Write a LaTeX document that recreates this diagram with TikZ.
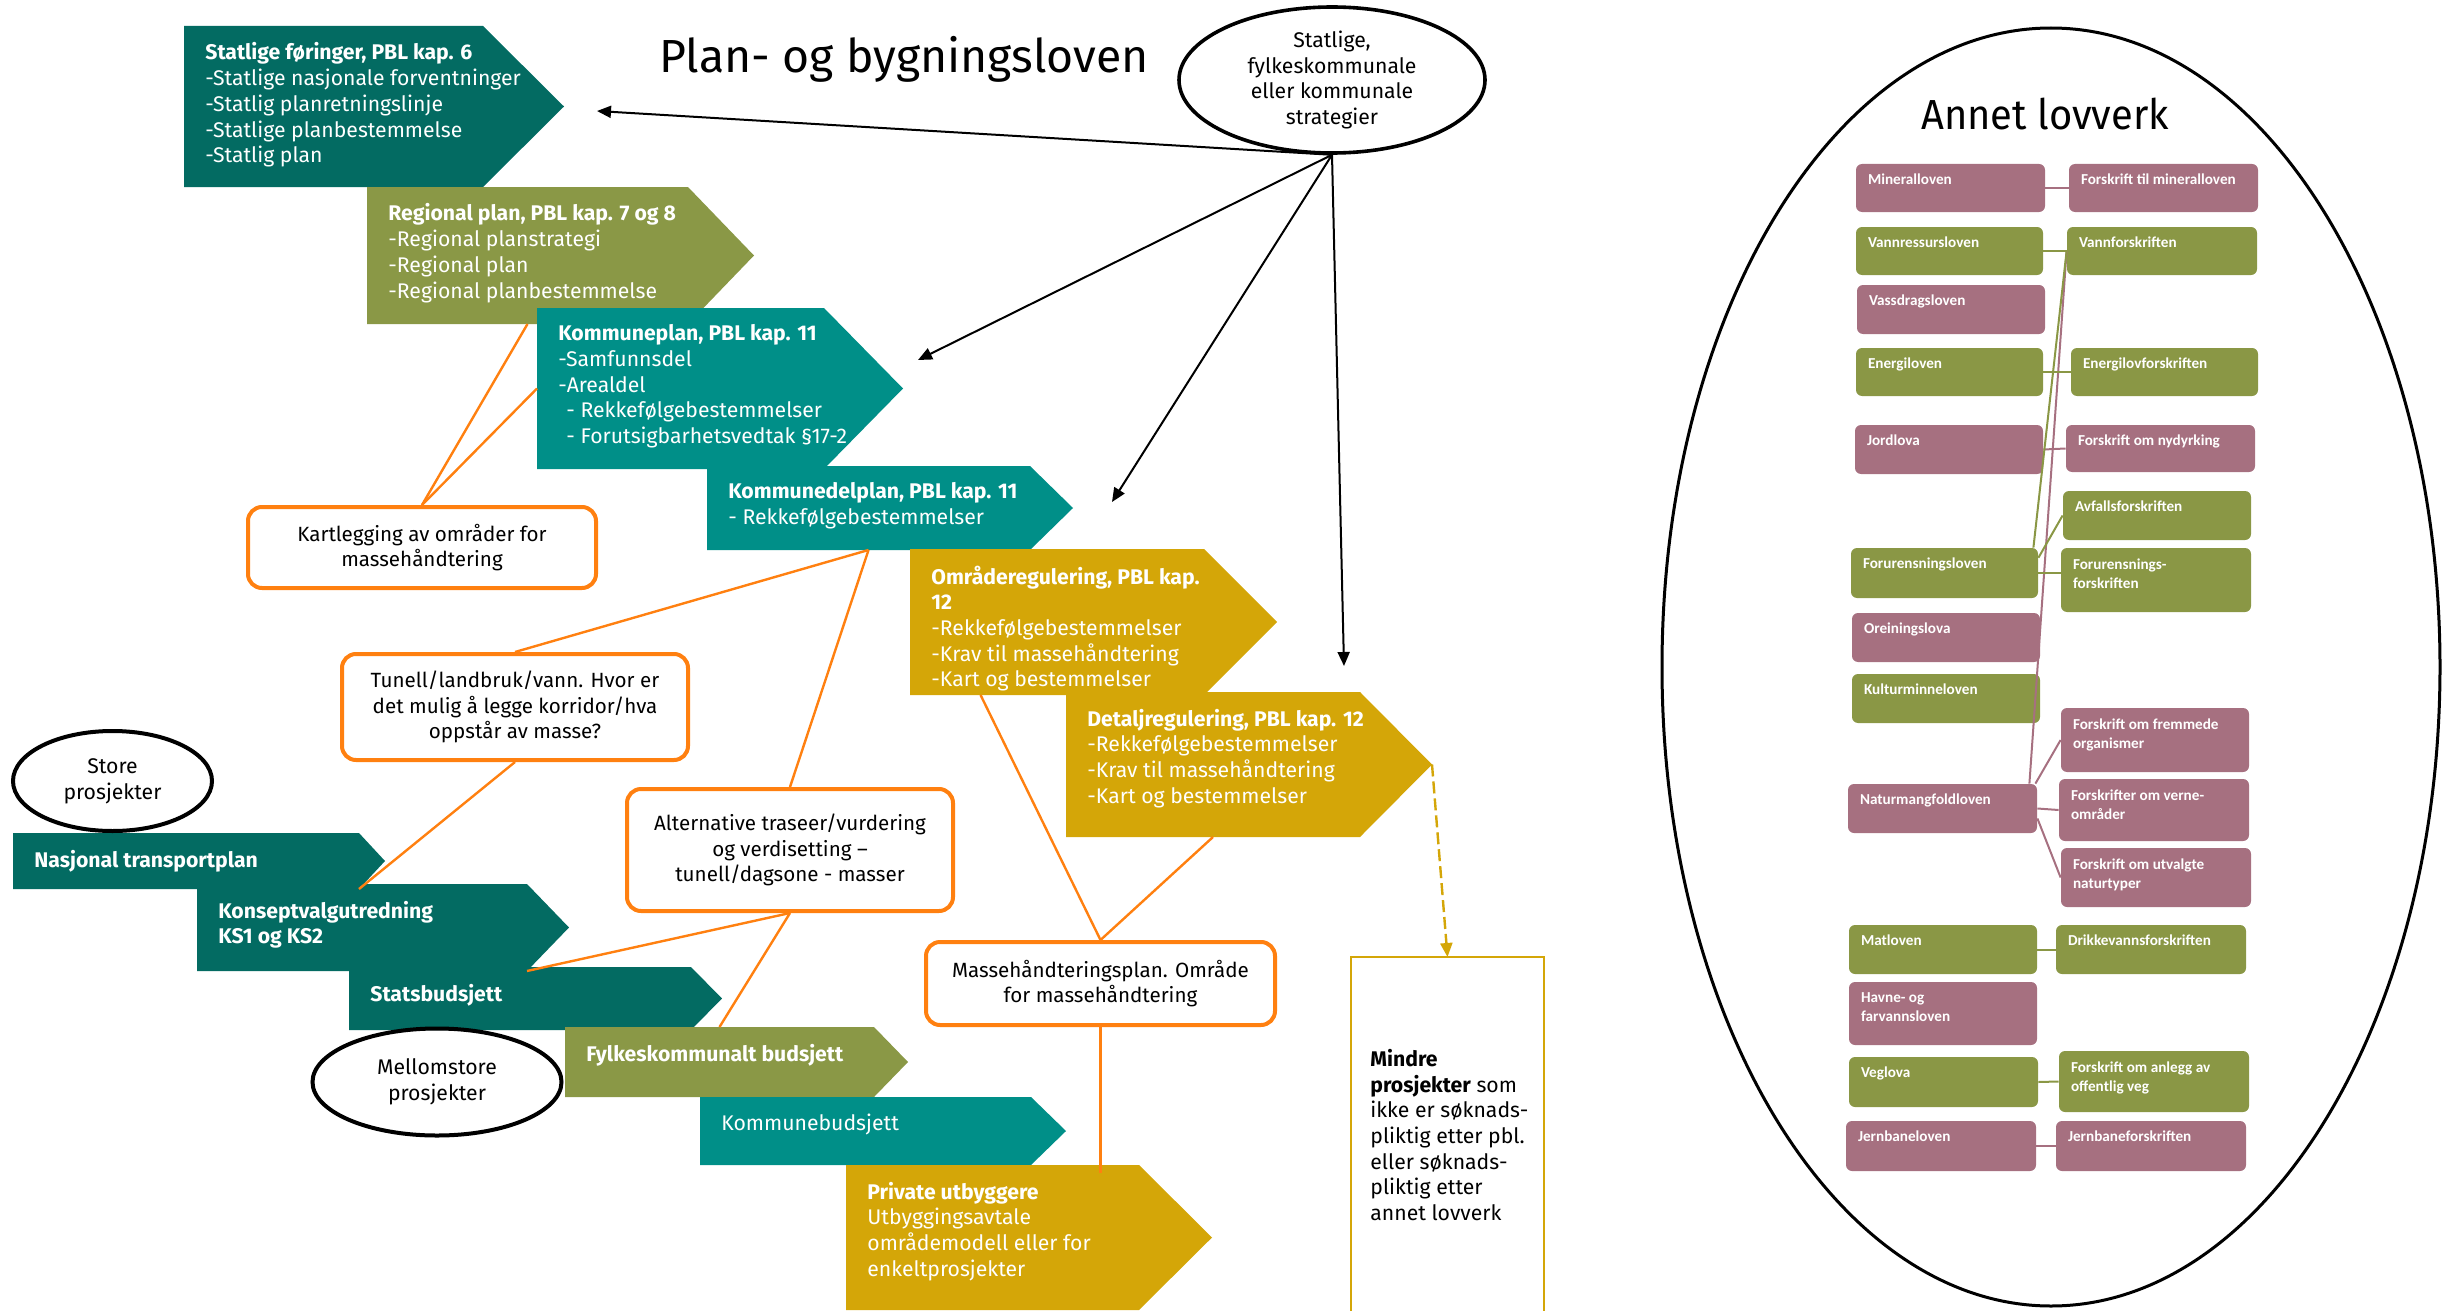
\documentclass[tikz,border=0pt]{standalone}
\usepackage{fontspec}
\setmainfont{Fira Sans}
\newfontfamily\lovfont{Carlito}
\newfontfamily\bredfont[FakeStretch=0.95]{Fira Sans}
\usetikzlibrary{positioning,fit,calc,arrows.meta,shapes.geometric}

\definecolor{mgronn}{HTML}{036B62}
\definecolor{oliven}{HTML}{8A9846}
\definecolor{turkis}{HTML}{008F88}
\definecolor{gull}{HTML}{D4A608}
\definecolor{oransje}{HTML}{FF8010}
\definecolor{rosa}{HTML}{A67080}
\definecolor{gronn}{HTML}{8A9745}

\tikzset{
  kropp/.style={inner sep=0pt, outer sep=0pt},
  piltekst/.style={inner sep=0pt, text=white, align=left,
    font=\fontsize{10.6}{12.85}\selectfont},
  boks/.style={draw=oransje, line width=2pt, rounded corners=7pt, fill=white,
    align=center, inner sep=0pt, font=\fontsize{10.3}{12.6}\selectfont},
  ring/.style={ellipse, draw, line width=1.8pt, align=center, inner sep=0pt,
    font=\fontsize{10.6}{12.85}\selectfont},
  strek/.style={draw=oransje, line width=1.2pt},
  pil/.style={draw, line width=1pt, -{Triangle[length=7pt,width=6pt]}},
  lov/.style={fill=#1, rounded corners=3pt, inner sep=0pt},
  lovtekst/.style={inner sep=0pt, text=white, align=left,
    font=\lovfont\bfseries\fontsize{7.6}{9.5}\selectfont},
  lovstrek/.style={draw=#1, line width=1pt},
}

\begin{document}
\begin{tikzpicture}[x=0.5pt, y=-0.5pt]
  \useasboundingbox (0,0) rectangle (2463,1311);

  % plan- og bygningsloven
  \node[anchor=base, font=\fontsize{23.2}{28}\selectfont] (tittel) at (904,73) {Plan- og bygningsloven};

  \node[kropp, fit={(184,26)(483,187)}] (statlig) {};
  \fill[mgronn] (statlig.north west) -- (statlig.north east) -- ($(statlig.east)+(81,0)$) -- (statlig.south east) -- (statlig.south west) -- cycle;
  \node[piltekst, below right=8.2pt and 10.5pt of statlig.north west] (statlig-t)
    {\textbf{Statlige føringer, PBL kap. 6}\\-Statlige nasjonale forventninger\\-Statlig planretningslinje\\-Statlige planbestemmelse\\-Statlig plan};

  \node[kropp, fit={(367,187)(688,324)}] (regional) {};
  \fill[oliven] (regional.north west) -- (regional.north east) -- ($(regional.east)+(66,0)$) -- (regional.south east) -- (regional.south west) -- cycle;
  \node[piltekst, below right=8.2pt and 10.5pt of regional.north west] (regional-t)
    {\textbf{Regional plan, PBL kap. 7 og 8}\\-Regional planstrategi\\-Regional plan\\-Regional planbestemmelse};

  \node[kropp, fit={(537,308)(824,469)}] (kplan) {};
  \fill[turkis] (kplan.north west) -- (kplan.north east) -- ($(kplan.east)+(79,0)$) -- (kplan.south east) -- (kplan.south west) -- cycle;
  \node[piltekst, below right=8.2pt and 10.5pt of kplan.north west] (kplan-t)
    {\textbf{Kommuneplan, PBL kap. 11}\\-Samfunnsdel\\-Arealdel\\\hspace*{4pt}- Rekkefølgebestemmelser\\\hspace*{4pt}- Forutsigbarhetsvedtak §17-2};

  \node[kropp, fit={(707,466)(1030,550)}] (kdplan) {};
  \fill[turkis] (kdplan.north west) -- (kdplan.north east) -- ($(kdplan.east)+(43,0)$) -- (kdplan.south east) -- (kdplan.south west) -- cycle;
  \node[piltekst, below right=8.2pt and 10.5pt of kdplan.north west] (kdplan-t)
    {\textbf{Kommunedelplan, PBL kap. 11}\\- Rekkefølgebestemmelser};

  \node[kropp, fit={(910,549)(1204,695)}] (omr) {};
  \fill[gull] (omr.north west) -- (omr.north east) -- ($(omr.east)+(73,0)$) -- (omr.south east) -- (omr.south west) -- cycle;
  \node[piltekst, below right=8.2pt and 10.5pt of omr.north west] (omr-t)
    {\textbf{Områderegulering, PBL kap.}\\\textbf{12}\\-Rekkefølgebestemmelser\\-Krav til massehåndtering\\-Kart og bestemmelser};

  \node[kropp, fit={(1066,692)(1360,837)}] (detalj) {};
  \fill[gull] (detalj.north west) -- (detalj.north east) -- ($(detalj.east)+(72,0)$) -- (detalj.south east) -- (detalj.south west) -- cycle;
  \node[piltekst, below right=8.2pt and 10.5pt of detalj.north west] (detalj-t)
    {\textbf{Detaljregulering, PBL kap. 12}\\-Rekkefølgebestemmelser\\-Krav til massehåndtering\\-Kart og bestemmelser};

  \node[kropp, fit={(13,833)(359,889)}] (ntp) {};
  \fill[mgronn] (ntp.north west) -- (ntp.north east) -- ($(ntp.east)+(26,0)$) -- (ntp.south east) -- (ntp.south west) -- cycle;
  \node[piltekst, below right=8.2pt and 10.5pt of ntp.north west] (ntp-t) {\textbf{Nasjonal transportplan}};

  \node[kropp, fit={(197,884)(527,971)}] (kvu) {};
  \fill[mgronn] (kvu.north west) -- (kvu.north east) -- ($(kvu.east)+(42,0)$) -- (kvu.south east) -- (kvu.south west) -- cycle;
  \node[piltekst, below right=8.2pt and 10.5pt of kvu.north west] (kvu-t) {\textbf{Konseptvalgutredning}\\\textbf{KS1 og KS2}};

  \node[kropp, fit={(349,967)(691,1030)}] (statsb) {};
  \fill[mgronn] (statsb.north west) -- (statsb.north east) -- ($(statsb.east)+(31,0)$) -- (statsb.south east) -- (statsb.south west) -- cycle;
  \node[piltekst, below right=8.2pt and 10.5pt of statsb.north west] (statsb-t) {\textbf{Statsbudsjett}};

  \node[kropp, fit={(565,1027)(874,1097)}] (fylkb) {};
  \fill[oliven] (fylkb.north west) -- (fylkb.north east) -- ($(fylkb.east)+(34,0)$) -- (fylkb.south east) -- (fylkb.south west) -- cycle;
  \node[piltekst, below right=8.2pt and 10.5pt of fylkb.north west] (fylkb-t) {\textbf{Fylkeskommunalt budsjett}};

  \node[kropp, fit={(700,1097)(1031,1165)}] (kommb) {};
  \fill[turkis] (kommb.north west) -- (kommb.north east) -- ($(kommb.east)+(35,0)$) -- (kommb.south east) -- (kommb.south west) -- cycle;
  \node[piltekst, below right=8.2pt and 10.5pt of kommb.north west] (kommb-t) {Kommunebudsjett};

  \node[kropp, fit={(846,1165)(1139,1310)}] (priv) {};
  \fill[gull] (priv.north west) -- (priv.north east) -- ($(priv.east)+(73,0)$) -- (priv.south east) -- (priv.south west) -- cycle;
  \node[piltekst, below right=8.2pt and 10.5pt of priv.north west] (priv-t)
    {\textbf{Private utbyggere}\\Utbyggingsavtale\\områdemodell eller for\\enkeltprosjekter};

  % ellipser og bokser
  \node[ring, minimum width=153pt, minimum height=73pt] (strat) at (1332,80) {Statlige,\\fylkeskommunale\\eller kommunale\\strategier};
  \node[ring, line width=2pt, minimum width=99.5pt, minimum height=50pt] (store) at (112.5,781) {Store\\prosjekter};
  \node[ring, line width=2pt, minimum width=124.5pt, minimum height=53.5pt] (mellom) at (437,1082) {Mellomstore\\prosjekter};

  \node[boks, minimum width=174pt, minimum height=40.5pt] (kart) at (422,547.5) {Kartlegging av områder for\\massehåndtering};
  \node[boks, minimum width=173pt, minimum height=53pt] (tunell) at (515,707) {Tunell/landbruk/vann. Hvor er\\det mulig å legge korridor/hva\\oppstår av masse?};
  \node[boks, minimum width=163pt, minimum height=61pt] (alt) at (790,850) {Alternative traseer/vurdering\\og verdisetting –\\tunell/dagsone - masser};
  \node[boks, minimum width=174.5pt, minimum height=41.5pt] (masse) at (1100.5,983.5) {Massehåndteringsplan. Område\\for massehåndtering};

  \node[kropp, fit={(1351,957)(1544,1311)}] (mindre) {};
  \draw[gull, line width=1pt] (mindre.south west) -- (mindre.north west) -- (mindre.north east) -- (mindre.south east);
  \node[inner sep=0pt, align=left, font=\fontsize{10.6}{12.85}\selectfont, below right=45.9pt and 9.5pt of mindre.north west] (mindre-t)
    {\textbf{Mindre}\\\textbf{prosjekter} som\\ikke er søknads-\\pliktig etter pbl.\\eller søknads-\\pliktig etter\\annet lovverk};

  % piler fra strategiene
  \coordinate (m1) at (597,111);
  \coordinate (m2) at (918,360);
  \coordinate (m3) at (1112,502);
  \coordinate (m4) at (1344,666);
  \path (strat.south) edge[pil] (m1)
                      edge[pil] (m2)
                      edge[pil] (m3)
                      edge[pil] (m4);

  \coordinate (dspiss) at ($(detalj.east)+(72,0)$);
  \draw[gull, line width=1.2pt, dash pattern=on 6pt off 2.5pt, -{Triangle[length=7pt,width=6pt]}] (dspiss) -- (mindre.north);

  % oransje linjer
  \path[strek] (kart.north) edge (regional.south)
                            edge (kplan.west)
               (tunell.north) edge (kdplan.south)
               (alt.north) edge (kdplan.south)
               (tunell.south) edge (ntp.south east)
               (alt.south) edge (kvu.south east)
                           edge (fylkb.north)
               (masse.north) edge ($(omr.south west)!.24!(omr.south east)$)
                             edge (detalj.south)
               (masse.south) edge ([yshift=-4pt]masse.south |- priv.north);

  % annet lovverk
  \node[ellipse, draw, line width=1.5pt, minimum width=389pt, minimum height=639pt, inner sep=0pt] (annet) at (2051,667) {};
  \node[anchor=base, font=\bredfont\fontsize{21}{25}\selectfont] (annet-t) at (2045,130) {Annet lovverk};

  \node[lov=rosa, fit={(1856,164)(2045,212)}] (mineral) {};
  \node[lovtekst, below right=5pt and 6pt of mineral.north west] (mineral-t) {Mineralloven};
  \node[lov=rosa, fit={(2069,164)(2258,212)}] (fmineral) {};
  \node[lovtekst, below right=5pt and 6pt of fmineral.north west] (fmineral-t) {Forskrift til mineralloven};
  \node[lov=gronn, fit={(1856,227)(2043,275)}] (vannres) {};
  \node[lovtekst, below right=5pt and 6pt of vannres.north west] (vannres-t) {Vannressursloven};
  \node[lov=gronn, fit={(2067,227)(2257,275)}] (vannfor) {};
  \node[lovtekst, below right=5pt and 6pt of vannfor.north west] (vannfor-t) {Vannforskriften};
  \node[lov=rosa, fit={(1857,285)(2045,334)}] (vassdrag) {};
  \node[lovtekst, below right=5pt and 6pt of vassdrag.north west] (vassdrag-t) {Vassdragsloven};
  \node[lov=gronn, fit={(1856,348)(2043,396)}] (energi) {};
  \node[lovtekst, below right=5pt and 6pt of energi.north west] (energi-t) {Energiloven};
  \node[lov=gronn, fit={(2071,348)(2258,396)}] (fenergi) {};
  \node[lovtekst, below right=5pt and 6pt of fenergi.north west] (fenergi-t) {Energilovforskriften};
  \node[lov=rosa, fit={(1855,425)(2043,474)}] (jord) {};
  \node[lovtekst, below right=5pt and 6pt of jord.north west] (jord-t) {Jordlova};
  \node[lov=rosa, fit={(2066,425)(2255,472)}] (nydyrk) {};
  \node[lovtekst, below right=5pt and 6pt of nydyrk.north west] (nydyrk-t) {Forskrift om nydyrking};
  \node[lov=gronn, fit={(2063,491)(2251,540)}] (avfall) {};
  \node[lovtekst, below right=5pt and 6pt of avfall.north west] (avfall-t) {Avfallsforskriften};
  \node[lov=gronn, fit={(1851,548)(2038,598)}] (forurens) {};
  \node[lovtekst, below right=5pt and 6pt of forurens.north west] (forurens-t) {Forurensningsloven};
  \node[lov=gronn, fit={(2061,548)(2251,612)}] (fforurens) {};
  \node[lovtekst, below right=5.5pt and 6pt of fforurens.north west] (fforurens-t) {Forurensnings-\\forskriften};
  \node[lov=rosa, fit={(1852,613)(2040,662)}] (oreining) {};
  \node[lovtekst, below right=5pt and 6pt of oreining.north west] (oreining-t) {Oreiningslova};
  \node[lov=gronn, fit={(1852,674)(2040,723)}] (kultur) {};
  \node[lovtekst, below right=5pt and 6pt of kultur.north west] (kultur-t) {Kulturminneloven};
  \node[lov=rosa, fit={(2061,708)(2249,772)}] (fremmed) {};
  \node[lovtekst, below right=5.5pt and 6pt of fremmed.north west] (fremmed-t) {Forskrift om fremmede\\organismer};
  \node[lov=rosa, fit={(1848,784)(2037,833)}] (natur) {};
  \node[lovtekst, below right=5pt and 6pt of natur.north west] (natur-t) {Naturmangfoldloven};
  \node[lov=rosa, fit={(2059,779)(2249,841)}] (verne) {};
  \node[lovtekst, below right=5.5pt and 6pt of verne.north west] (verne-t) {Forskrifter om verne-\\områder};
  \node[lov=rosa, fit={(2061,848)(2251,907)}] (utvalgt) {};
  \node[lovtekst, below right=5.5pt and 6pt of utvalgt.north west] (utvalgt-t) {Forskrift om utvalgte\\naturtyper};
  \node[lov=gronn, fit={(1849,925)(2037,974)}] (mat) {};
  \node[lovtekst, below right=5pt and 6pt of mat.north west] (mat-t) {Matloven};
  \node[lov=gronn, fit={(2056,925)(2246,974)}] (drikke) {};
  \node[lovtekst, below right=5pt and 6pt of drikke.north west] (drikke-t) {Drikkevannsforskriften};
  \node[lov=rosa, fit={(1849,982)(2037,1045)}] (havn) {};
  \node[lovtekst, below right=5.5pt and 6pt of havn.north west] (havn-t) {Havne- og\\farvannsloven};
  \node[lov=gronn, fit={(1849,1057)(2038,1107)}] (veg) {};
  \node[lovtekst, below right=5pt and 6pt of veg.north west] (veg-t) {Veglova};
  \node[lov=gronn, fit={(2059,1051)(2249,1112)}] (anlegg) {};
  \node[lovtekst, below right=5.5pt and 6pt of anlegg.north west] (anlegg-t) {Forskrift om anlegg av\\offentlig veg};
  \node[lov=rosa, fit={(1846,1121)(2036,1171)}] (jern) {};
  \node[lovtekst, below right=5pt and 6pt of jern.north west] (jern-t) {Jernbaneloven};
  \node[lov=rosa, fit={(2056,1121)(2246,1171)}] (fjern) {};
  \node[lovtekst, below right=5pt and 6pt of fjern.north west] (fjern-t) {Jernbaneforskriften};

  \path[lovstrek=rosa] (mineral.east) edge (fmineral.west)
                       (jord.east) edge (nydyrk.west)
                       (vannfor.west) edge ([xshift=-4pt]natur.north east)
                       ([xshift=-1pt]natur.north east) edge (fremmed.west)
                       (natur.east) edge (verne.west)
                       ($(natur.north east)!.7!(natur.south east)$) edge (utvalgt.west)
                       (jern.east) edge (fjern.west);
  \path[lovstrek=gronn] (vannres.east) edge (vannfor.west)
                        (energi.east) edge (fenergi.west)
                        (vannfor.west) edge ([xshift=-2.5pt]forurens.north east)
                        ($(forurens.north east)!.2!(forurens.south east)$) edge (avfall.west)
                        (forurens.east) edge (forurens.east -| fforurens.west)
                        (mat.east) edge (drikke.west)
                        (veg.east) edge (anlegg.west);
\end{tikzpicture}
\end{document}
